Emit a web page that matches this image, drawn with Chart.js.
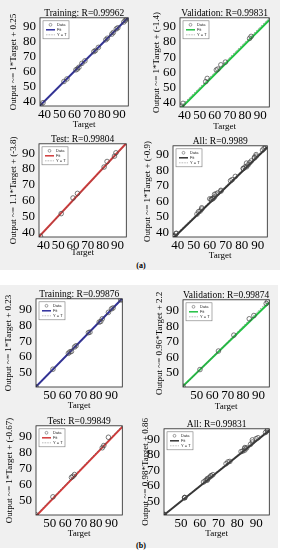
<!DOCTYPE html>
<html>
<head>
<meta charset="utf-8">
<script src="https://cdn.jsdelivr.net/npm/chart.js@4"></script>
<style>
body { margin: 0; background: #fff; width: 282px; height: 550px; position: relative; overflow: hidden; font-family: "Liberation Serif", serif; }
.panel { position: absolute; background: #f0f0f0; }
.tag { position: absolute; font-size: 8px; font-weight: bold; transform: translate(-50%, -50%); }
canvas { position: absolute; }
</style>
</head>
<body>
<div class="panel" style="left:0;top:0;width:280px;height:270px"></div>
<div class="panel" style="left:0;top:285px;width:278px;height:263px"></div>
<div class="tag" style="left:141px;top:265px">(a)</div>
<div class="tag" style="left:141px;top:545px">(b)</div>
<canvas id="a1"></canvas>
<canvas id="a2"></canvas>
<canvas id="a3"></canvas>
<canvas id="a4"></canvas>
<canvas id="b1"></canvas>
<canvas id="b2"></canvas>
<canvas id="b3"></canvas>
<canvas id="b4"></canvas>
<script>
/** data **/
const ticks_a = [40, 50, 60, 70, 80, 90]
const ticks_b = [50, 60, 70, 80, 90]
const lim_a = [37, 96]
const lim_b = [41, 97]

const train_a_target = [37.5, 39, 53, 55, 61, 62, 63, 65, 67, 73, 74, 76, 81, 82, 85, 86, 88, 89, 93, 94, 95, 96]
const train_a_output = [37.6, 39.2, 53.4, 55.1, 61.2, 61.8, 62.9, 65.5, 67.2, 73.4, 74.1, 76.2, 81.3, 82.3, 85.1, 86.2, 88.6, 89.3, 93.2, 94.3, 95.4, 96]
const val_a_target = [38, 39, 54, 55, 61, 62, 64, 67, 83, 84]
const val_a_output = [37.6, 39.4, 53.8, 55.9, 61.5, 62.1, 64.9, 66.7, 82.4, 83.7]
const test_a_target = [38, 52, 60, 63, 81, 83, 88, 89]
const test_a_output = [37.5, 51.8, 61.7, 64.6, 81.3, 84.8, 88.2, 90.3]

const train_b_target = [41, 52, 62, 63, 64, 66, 67, 75, 76, 82, 83, 84, 88, 90, 91, 96, 97]
const train_b_output = [41.2, 52.3, 62.4, 63.3, 63.6, 66.4, 67.2, 75.5, 75.8, 82.2, 82.6, 84.3, 88.4, 90.6, 91.2, 96.3, 96.4]
const val_b_target = [41, 52, 64, 74, 84, 87, 95, 96]
const val_b_output = [41.5, 52.2, 64.1, 74.3, 84.8, 86.9, 94.6, 95.8]
const test_b_target = [41, 52, 64, 65, 66, 84, 85, 88]
const test_b_output = [41.1, 52.4, 64.6, 65.3, 66.4, 83.2, 84.6, 89.8]

// fit line values at the two ends of the axis range, as seen in the picture
const fit_a = { train: [37.25, 96.25], val: [35.6, 94.6], test: [37.2, 96.4], all: [36.1, 95.1] }
const fit_b = { train: [41.23, 97.23], val: [41.56, 95.32], test: [40.33, 96.33], all: [41.04, 95.92] }

const serif = '"Liberation Serif", "Times New Roman", serif'

// white plot area + black frame
const frame = {
    id: 'frame',
    beforeDraw(chart) {
        const a = chart.chartArea, ctx = chart.ctx
        ctx.save()
        ctx.fillStyle = '#fff'
        ctx.fillRect(a.left, a.top, a.right - a.left, a.bottom - a.top)
        ctx.restore()
    },
    afterDraw(chart) {
        const a = chart.chartArea, ctx = chart.ctx
        ctx.save()
        ctx.strokeStyle = '#222'
        ctx.lineWidth = 0.8
        ctx.strokeRect(a.left, a.top, a.right - a.left, a.bottom - a.top)
        ctx.restore()
    }
}

// small matlab style legend box in the top left corner
const boxLegend = {
    id: 'boxLegend',
    afterDraw(chart) {
        const ctx = chart.ctx, a = chart.chartArea
        const ds = chart.data.datasets
        const x = a.left + 3, y = a.top + 3, w = 26, h = 18
        ctx.save()
        ctx.fillStyle = '#fff'
        ctx.fillRect(x, y, w, h)
        ctx.strokeStyle = '#777'
        ctx.lineWidth = 0.6
        ctx.strokeRect(x, y, w, h)
        ctx.font = '4px "Liberation Sans", sans-serif'
        ctx.fillStyle = '#222'
        ctx.textBaseline = 'middle'
        // Data
        ctx.beginPath()
        ctx.arc(x + 7.5, y + 4, 1.4, 0, Math.PI * 2)
        ctx.strokeStyle = '#444'
        ctx.lineWidth = 0.5
        ctx.stroke()
        ctx.fillText(ds[0].label, x + 14, y + 4)
        // Fit
        ctx.beginPath()
        ctx.moveTo(x + 3, y + 9)
        ctx.lineTo(x + 12, y + 9)
        ctx.strokeStyle = ds[1].borderColor
        ctx.lineWidth = 1.5
        ctx.stroke()
        ctx.fillText(ds[1].label, x + 14, y + 9)
        // Y = T
        ctx.beginPath()
        ctx.setLineDash([0.8, 0.8])
        ctx.moveTo(x + 3, y + 14)
        ctx.lineTo(x + 12, y + 14)
        ctx.strokeStyle = '#555'
        ctx.lineWidth = 0.5
        ctx.stroke()
        ctx.setLineDash([])
        ctx.fillText(ds[2].label, x + 14, y + 14)
        ctx.restore()
    }
}

function pts(xs, ys) {
    return xs.map((v, i) => ({ x: v, y: ys[i] }))
}

// box = [left, top, right, bottom] of the plot area on the page
function regression_chart(id, box, label_x, target_y, title, ylabel, color, xs, ys, fit, lim, tick_values) {
    const c_left = Math.round(label_x - 5.5)
    const c_top = Math.round(box[1] - 11.5)
    const c_right = box[2] + 3
    const c_bottom = Math.round(target_y + 5.5)
    const yw = box[0] - c_left
    const xh = c_bottom - box[3]
    const canvas = document.getElementById(id)
    canvas.width = c_right - c_left
    canvas.height = c_bottom - c_top
    canvas.style.left = c_left + 'px'
    canvas.style.top = c_top + 'px'

    const axis = (extra) => Object.assign({
        type: 'linear',
        min: lim[0],
        max: lim[1],
        afterBuildTicks: s => { s.ticks = tick_values.map(v => ({ value: v })) },
        grid: { display: false, drawTicks: false },
        border: { display: false },
    }, extra)

    return new Chart(canvas.getContext('2d'), {
        type: 'scatter',
        data: {
            datasets: [{
                label: 'Data',
                data: pts(xs, ys),
                pointRadius: 2.3,
                pointBorderWidth: 0.7,
                borderColor: '#444',
                backgroundColor: 'rgba(0,0,0,0)',
                order: 1,
            }, {
                label: 'Fit',
                data: pts(lim, fit),
                showLine: true,
                borderColor: color,
                borderWidth: 2,
                pointRadius: 0,
                order: 2,
            }, {
                label: 'Y = T',
                data: pts(lim, lim),
                showLine: true,
                borderColor: '#555',
                borderWidth: 0.7,
                borderDash: [1, 1.5],
                pointRadius: 0,
                order: 0,
            }]
        },
        options: {
            responsive: false,
            animation: false,
            events: [],
            layout: { padding: { left: 0, right: 3, top: 0, bottom: 0 } },
            plugins: {
                legend: { display: false },
                tooltip: { enabled: false },
                title: {
                    display: true,
                    fullSize: false,
                    text: title,
                    color: '#000',
                    font: { family: serif, size: 9.5, weight: 'normal', lineHeight: 1 },
                    padding: { top: 2, bottom: 0 },
                },
            },
            scales: {
                x: axis({
                    position: 'bottom',
                    ticks: { font: { family: serif, size: 13 }, color: '#000', padding: 1, autoSkip: false, maxRotation: 0 },
                    title: { display: true, text: 'Target', color: '#000', font: { family: serif, size: 9, lineHeight: 1 }, padding: { top: 0, bottom: 1 } },
                    afterFit: s => { s.height = xh },
                }),
                y: axis({
                    position: 'left',
                    ticks: { font: { family: serif, size: 13 }, color: '#000', padding: 4, autoSkip: false },
                    title: { display: true, text: ylabel, color: '#000', font: { family: serif, size: 9, lineHeight: 1 }, padding: { top: 1, bottom: 0 } },
                    afterFit: s => { s.width = yw },
                }),
            },
        },
        plugins: [frame, boxLegend],
    })
}

const blue = '#2e2e9c'
const green = '#22c043'
const red = '#d23a3a'
const black = '#333333'

/** (a) **/
regression_chart('a1', [40, 17, 130, 106], 13, 124, 'Training: R=0.99962', 'Output ~= 1*Target + 0.25', blue,
    train_a_target, train_a_output, fit_a.train, lim_a, ticks_a)
regression_chart('a2', [180, 17, 271, 107], 156, 126, 'Validation: R=0.99831', 'Output ~= 1*Target + (-1.4)', green,
    val_a_target, val_a_output, fit_a.val, lim_a, ticks_a)
regression_chart('a3', [39, 143, 128, 237], 13, 252, 'Test: R=0.99804', 'Output ~= 1.1*Target + (-3.8)', red,
    test_a_target, test_a_output, fit_a.test, lim_a, ticks_a)
regression_chart('a4', [173, 145, 269, 237], 147, 255, 'All: R=0.9989', 'Output ~= 1*Target + (-0.9)', black,
    train_a_target.concat(val_a_target, test_a_target), train_a_output.concat(val_a_output, test_a_output), fit_a.all, lim_a, ticks_a)

/** (b) **/
regression_chart('b1', [36, 298, 124, 387], 8, 405, 'Training: R=0.99876', 'Output ~= 1*Target + 0.23', blue,
    train_b_target, train_b_output, fit_b.train, lim_b, ticks_b)
regression_chart('b2', [183, 299, 271, 387], 159, 406, 'Validation: R=0.99874', 'Output ~= 0.96*Target + 2.2', green,
    val_b_target, val_b_output, fit_b.val, lim_b, ticks_b)
regression_chart('b3', [36, 425, 124, 515], 9, 533, 'Test: R=0.99849', 'Output ~= 1*Target + (-0.67)', red,
    test_b_target, test_b_output, fit_b.test, lim_b, ticks_b)
regression_chart('b4', [164, 428, 271, 515], 145, 533, 'All: R=0.99831', 'Output ~= 0.98*Target + 0.86', black,
    train_b_target.concat(val_b_target, test_b_target), train_b_output.concat(val_b_output, test_b_output), fit_b.all, lim_b, ticks_b)
</script>
</body>
</html>
